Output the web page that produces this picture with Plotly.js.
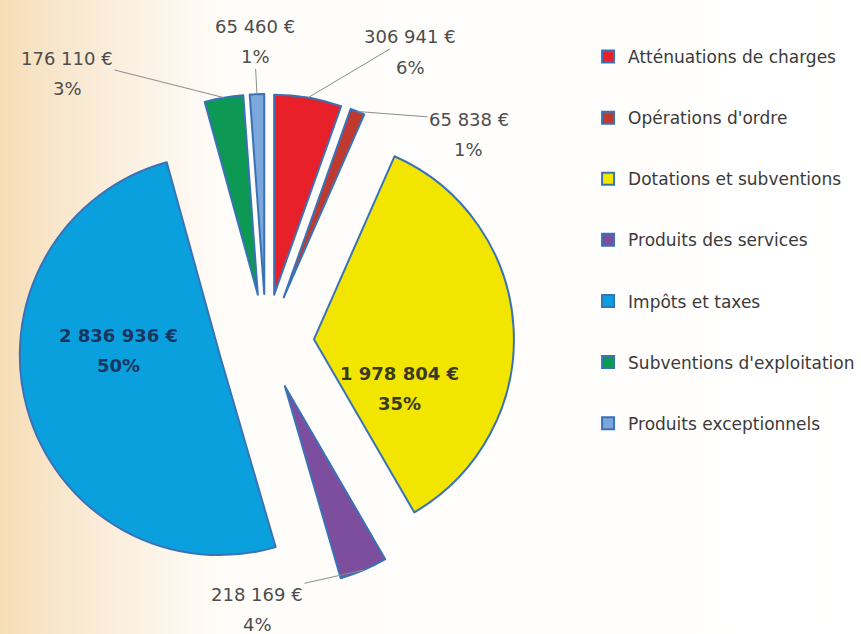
<!DOCTYPE html>
<html>
<head>
<meta charset="utf-8">
<script src="https://cdn.plot.ly/plotly-3.0.1.min.js"></script>
<style>
  html, body { margin: 0; padding: 0; }
  body {
    width: 861px; height: 634px; overflow: hidden;
    background: linear-gradient(to right, #f6ddb6 0px, #f9e8d0 70px, #fcf3e7 150px, #fffdfa 230px, #ffffff 861px);
  }
  #chart { width: 861px; height: 634px; }
</style>
</head>
<body>
<div id="chart"></div>
<script>
// ---- data ----
const labels = [
  "Atténuations de charges",
  "Opérations d'ordre",
  "Dotations et subventions",
  "Produits des services",
  "Impôts et taxes",
  "Subventions d'exploitation",
  "Produits exceptionnels"
];
const values = [306941, 65838, 1978804, 218169, 2836936, 176110, 65460];
const percentLabels = ["6%", "1%", "35%", "4%", "50%", "3%", "1%"];
const colors = ["#e8202a", "#c0392f", "#f2e500", "#7d4e9e", "#0a9fdd", "#0d9854", "#7ba7dc"];

// ---- layout / style settings ----
const FONT = "'DejaVu Sans', 'Open Sans', sans-serif";
const W = 861, H = 634;
const borderColor = "#3a72b8";
const PULL = 0.24;
const pieBox = { x0: 18, x1: 514, y0: 94, y1: 590 };   // pixel box of the pie domain
const labelInside = [false, false, true, false, true, false, false];
// centre of the value line of each label (px); the percentage sits one line below
const labelCenter = [[410, 37], [469, 120], [399, 373], [257, 594], [118, 335], [67, 58], [255, 27]];
const LINE_GAP = 30;
const leaderFrom = ["value", "value", null, "value", null, "value", "percent"];
const insideColors = { 2: "#3a3a24", 4: "#17355f" };

const pie = {
  type: "pie",
  labels: labels,
  values: values,
  sort: false,
  direction: "clockwise",
  rotation: 0,
  pull: PULL,
  showlegend: false,
  textinfo: "none",
  marker: { colors: colors, line: { color: borderColor, width: 2 } },
  domain: { x: [pieBox.x0 / W, pieBox.x1 / W], y: [1 - pieBox.y1 / H, 1 - pieBox.y0 / H] },
  hoverinfo: "label+value+percent"
};

// ---- data labels: value + percentage, with leader lines to the slice edge ----
const total = values.reduce((a, b) => a + b, 0);
const cx = (pieBox.x0 + pieBox.x1) / 2, cy = (pieBox.y0 + pieBox.y1) / 2;
const R = Math.min(pieBox.x1 - pieBox.x0, pieBox.y1 - pieBox.y0) / (2 * (1 + PULL));
const fmt = v => String(v).replace(/\B(?=(\d{3})+(?!\d))/g, " ");
const annotations = [];
let cum = 0;
values.forEach((v, i) => {
  const mid = (cum + v / 2) / total * 2 * Math.PI;
  cum += v;
  const [tx, ty] = labelCenter[i];
  const lines = [[fmt(v) + " €", ty, "value"], [percentLabels[i], ty + LINE_GAP, "percent"]];
  const font = labelInside[i]
    ? { family: FONT, size: 18, weight: "bold", color: insideColors[i] }
    : { family: FONT, size: 18, color: "#4d4d4d" };
  lines.forEach(([txt, ly, kind]) => {
    const base = {
      xref: "paper", yref: "paper", text: txt, font: font,
      xanchor: "center", yanchor: "middle"
    };
    if (leaderFrom[i] === kind) {
      const hx = cx + R * (1 + PULL) * Math.sin(mid);
      const hy = cy - R * (1 + PULL) * Math.cos(mid);
      annotations.push(Object.assign(base, {
        x: hx / W, y: 1 - hy / H,
        axref: "pixel", ayref: "pixel", ax: tx - hx, ay: ly - hy,
        showarrow: true, arrowhead: 0, arrowwidth: 1, arrowcolor: "#8c8c8c", standoff: 0
      }));
    } else {
      annotations.push(Object.assign(base, { x: tx / W, y: 1 - ly / H, showarrow: false }));
    }
  });
});

// legend entries (one per category) so the spacing can match the reference
const legendTraces = labels.map((lab, i) => ({
  type: "scatter",
  mode: "markers",
  x: [null], y: [null],
  name: lab,
  legendgroup: "g" + i,
  showlegend: true,
  hoverinfo: "skip",
  marker: { symbol: "square", size: 12, color: colors[i], line: { color: borderColor, width: 2 } }
}));

const layout = {
  width: W, height: H,
  margin: { l: 0, r: 0, t: 0, b: 0, autoexpand: false },
  paper_bgcolor: "rgba(0,0,0,0)",
  plot_bgcolor: "rgba(0,0,0,0)",
  font: { family: FONT, color: "#404040" },
  xaxis: { visible: false, range: [0, 1] },
  yaxis: { visible: false, range: [0, 1] },
  showlegend: true,
  annotations: annotations,
  legend: {
    x: 0.683, y: 0.9385, xanchor: "left", yanchor: "top",
    font: { family: FONT, size: 17, color: "#3a3a3a" },
    bgcolor: "rgba(0,0,0,0)",
    tracegroupgap: 36,
    itemclick: false, itemdoubleclick: false
  }
};

Plotly.newPlot("chart", [pie].concat(legendTraces), layout, { displayModeBar: false, staticPlot: true });
</script>
</body>
</html>
